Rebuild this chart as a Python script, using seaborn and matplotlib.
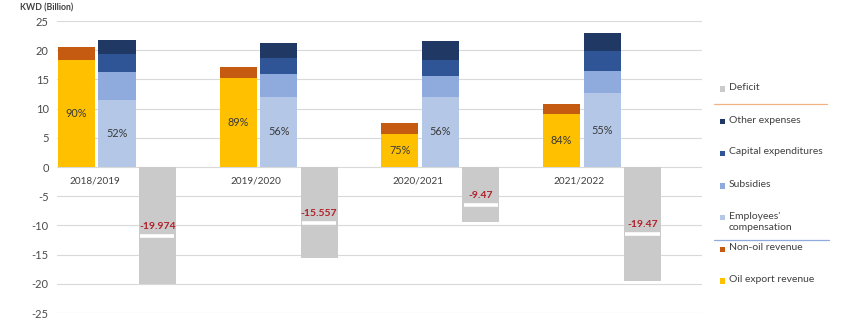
import matplotlib
matplotlib.use("Agg")
import matplotlib.pyplot as plt
import seaborn as sns
import numpy as np
from matplotlib.patches import Rectangle
from matplotlib.lines import Line2D

# ---- data ----
years = ["2018/2019", "2019/2020", "2020/2021", "2021/2022"]
oil_export = [18.4, 15.3, 5.6, 9.0]
non_oil = [2.1, 1.9, 1.9, 1.8]
employees = [11.5, 12.0, 12.0, 12.6]
subsidies = [4.8, 3.9, 3.6, 3.8]
capex = [3.0, 2.7, 2.8, 3.5]
other_exp = [2.4, 2.6, 3.1, 3.1]
deficit = [-19.974, -15.557, -9.47, -19.47]
oil_share = ["90%", "89%", "75%", "84%"]
wage_share = ["52%", "56%", "56%", "55%"]
deficit_labels = ["-19.974", "-15.557", "-9.47", "-19.47"]
legend_labels = ["Deficit", "Other expenses", "Capital expenditures", "Subsidies",
                 "Employees'\ncompensation", "Non-oil revenue", "Oil export revenue"]

# ---- style ----
C_OIL = "#FFC000"
C_NONOIL = "#C55A11"
C_EMP = "#B4C7E7"
C_SUB = "#8FAADC"
C_CAP = "#2F5597"
C_OTH = "#203864"
C_DEF = "#CACACA"
TXT = "#4A4A4A"

sns.set_theme(style="white")
plt.rcParams["font.family"] = ["Lato", "DejaVu Sans"]

W, H = 850, 334
fig = plt.figure(figsize=(W / 100, H / 100), dpi=100)
ax = fig.add_axes([57 / W, (H - 313) / H, (702 - 57) / W, (313 - 21) / H])

n = len(years)
idx = np.arange(n)
off = 0.25
bw = 0.229
x_rev = idx - off
x_exp = idx
x_def = idx + off

def draw(xpos, vals, color):
    sns.barplot(x=xpos, y=vals, native_scale=True, width=bw, color=color,
                saturation=1, linewidth=0, errorbar=None, ax=ax, zorder=3)

# revenue stack (back to front, cumulative)
rev_total = np.add(oil_export, non_oil)
draw(x_rev, rev_total, C_NONOIL)
draw(x_rev, oil_export, C_OIL)

# expenditure stack
c1 = np.array(employees)
c2 = c1 + subsidies
c3 = c2 + capex
c4 = c3 + other_exp
draw(x_exp, c4, C_OTH)
draw(x_exp, c3, C_CAP)
draw(x_exp, c2, C_SUB)
draw(x_exp, c1, C_EMP)

# deficit
draw(x_def, deficit, C_DEF)

# labels
for i in range(n):
    ax.text(x_rev[i], oil_export[i] / 2, oil_share[i], ha="center", va="center",
            fontsize=7.8, color="#3A3A3A", zorder=5)
    ax.text(x_exp[i], employees[i] / 2, wage_share[i], ha="center", va="center",
            fontsize=7.8, color="#3A3A3A", zorder=5)
    yc = deficit[i] / 2 - 0.15
    ax.text(x_def[i], yc, deficit_labels[i], ha="center", va="center",
            fontsize=7.5, color="#B0202A", fontweight="bold", zorder=5)
    ax.plot([x_def[i] - bw * 0.46, x_def[i] + bw * 0.46], [yc - 1.65, yc - 1.65],
            color="white", lw=2.6, solid_capstyle="butt", zorder=4)
    ax.text(x_rev[i] + 0.11, -2.4, years[i], ha="center", va="center",
            fontsize=7.2, color="#404040", zorder=5)

# axes
ax.set_xlim(-0.371, 3.618)
ax.set_ylim(-25, 25)
ax.set_yticks(np.arange(-25, 26, 5))
ax.set_yticklabels([str(v) for v in range(-25, 26, 5)])
ax.set_xticks([])
ax.set_xlabel("")
ax.set_ylabel("")
ax.tick_params(axis="y", length=0, pad=6, labelsize=8, labelcolor=TXT)
for s in ax.spines.values():
    s.set_visible(False)
ax.yaxis.grid(True, color="#D9D9D9", lw=0.8, zorder=0)
ax.set_axisbelow(True)

fig.text(20 / W, 1 - 8 / H, "KWD (Billion)", fontsize=6.3, fontweight="bold",
         color="#404040", ha="left", va="center")

# legend (manual, Excel-style)
colors = [C_DEF, C_OTH, C_CAP, C_SUB, C_EMP, C_NONOIL, C_OIL]
ys = [89, 121.7, 153.3, 186, 217.7, 249.3, 281]
for lab, col, yy in zip(legend_labels, colors, ys):
    fig.patches.append(Rectangle(((722.7 - 2.7) / W, 1 - (yy + 2.7) / H), 5.4 / W, 5.4 / H,
                                 transform=fig.transFigure, color=col, lw=0))
    fig.text(729 / W, 1 - (yy - 5.8) / H, lab, fontsize=7.5, color="#404040",
             ha="left", va="top", linespacing=1.25)
fig.add_artist(Line2D([714 / W, 827 / W], [1 - 104.3 / H] * 2, color="#F4B183", lw=0.9))
fig.add_artist(Line2D([714 / W, 829 / W], [1 - 240 / H] * 2, color="#8FAADC", lw=0.9))

fig.savefig("out.png", dpi=100)
